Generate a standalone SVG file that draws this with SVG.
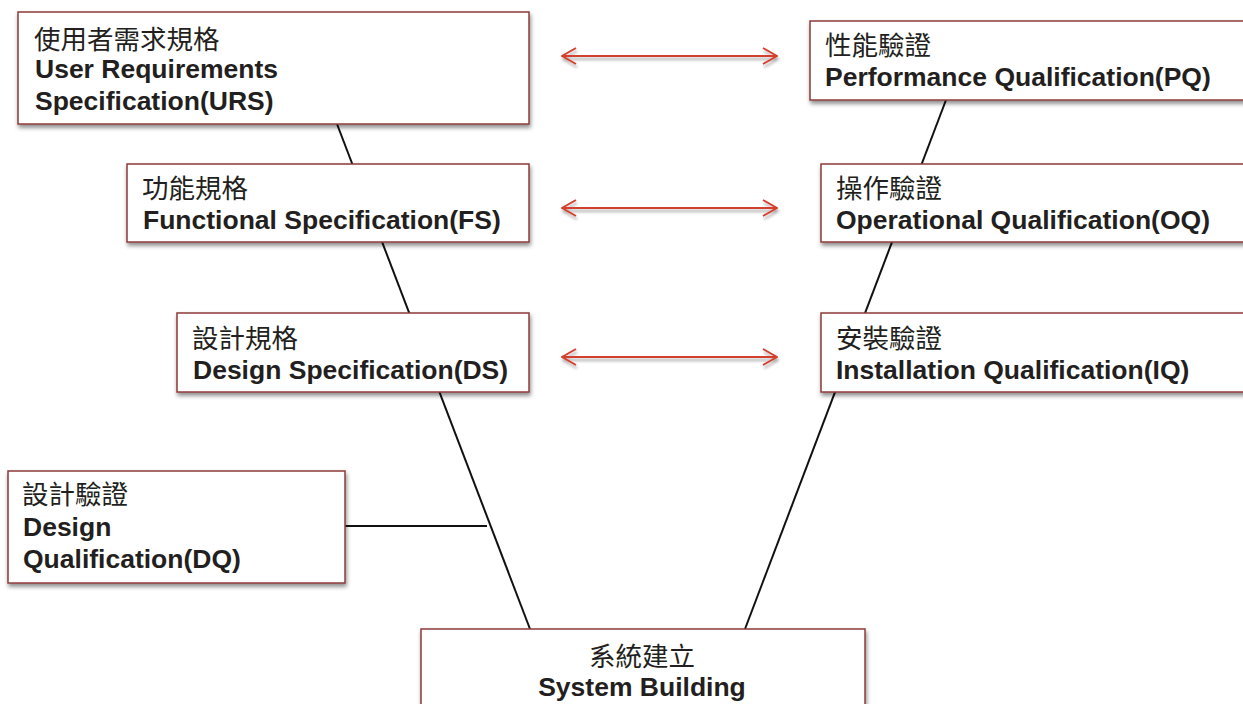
<svg xmlns="http://www.w3.org/2000/svg" width="1243" height="704" viewBox="0 0 1243 704">
<defs>
<filter id="sh" x="-10%" y="-20%" width="130%" height="150%">
<feDropShadow dx="1" dy="3" stdDeviation="2" flood-color="#000" flood-opacity="0.45"/>
</filter>
<filter id="ash" filterUnits="userSpaceOnUse" x="0" y="0" width="1243" height="704">
<feDropShadow dx="1" dy="3" stdDeviation="1.5" flood-color="#000" flood-opacity="0.35"/>
</filter>
<marker id="ah" viewBox="0 0 16 18" refX="15" refY="9" markerWidth="16" markerHeight="18" markerUnits="userSpaceOnUse" orient="auto-start-reverse">
<path d="M1,1 L15,9 L1,17" fill="none" stroke="#d2402e" stroke-width="2"/>
</marker>
<style>
.box{fill:#fff;stroke:#8e3b3b;stroke-width:1.5;filter:url(#sh)}
.zh{font-family:"Noto Sans CJK TC","Noto Sans CJK SC",sans-serif;font-size:26.5px;fill:#231f20}
.en{font-family:"Liberation Sans",Arial,sans-serif;font-size:26.5px;font-weight:bold;fill:#231f20}
.ln{stroke:#111;stroke-width:2;fill:none}
.ar{stroke:#d2402e;stroke-width:2;fill:none;marker-start:url(#ah);marker-end:url(#ah)}
</style>
</defs>
<g id="connectors">
<line class="ln" x1="337" y1="124" x2="530" y2="629"/>
<line class="ln" x1="946" y1="100" x2="745" y2="629"/>
<line class="ln" x1="345" y1="526" x2="415" y2="526" stroke-width="2.5"/>
<line class="ln" x1="415" y1="526" x2="487" y2="526" stroke-width="1.8"/>
<g filter="url(#ash)">
<path class="ar" d="M562,56 H777"/>
<path class="ar" d="M562,208 H777"/>
<path class="ar" d="M562,357 H777"/>
</g>
</g>
<g id="urs">
<rect class="box" x="18" y="12" width="511" height="112"/>
<text class="zh" x="34" y="49">使用者需求規格</text>
<text class="en" x="35" y="78">User Requirements</text>
<text class="en" x="35" y="110">Specification(URS)</text>
</g>
<g id="pq">
<rect class="box" x="810" y="21" width="445" height="79"/>
<text class="zh" x="825" y="55">性能驗證</text>
<text class="en" x="825" y="86">Performance Qualification(PQ)</text>
</g>
<g id="fs">
<rect class="box" x="127" y="164" width="402" height="78"/>
<text class="zh" x="142" y="198">功能規格</text>
<text class="en" x="143" y="229">Functional Specification(FS)</text>
</g>
<g id="oq">
<rect class="box" x="821" y="164" width="434" height="78"/>
<text class="zh" x="836" y="198">操作驗證</text>
<text class="en" x="836" y="229">Operational Qualification(OQ)</text>
</g>
<g id="ds">
<rect class="box" x="177" y="313" width="352" height="79"/>
<text class="zh" x="192" y="348">設計規格</text>
<text class="en" x="193" y="379">Design Specification(DS)</text>
</g>
<g id="iq">
<rect class="box" x="821" y="313" width="434" height="79"/>
<text class="zh" x="836" y="348">安裝驗證</text>
<text class="en" x="836" y="379">Installation Qualification(IQ)</text>
</g>
<g id="dq">
<rect class="box" x="8" y="471" width="337" height="112"/>
<text class="zh" x="22" y="504">設計驗證</text>
<text class="en" x="23" y="536">Design</text>
<text class="en" x="23" y="568">Qualification(DQ)</text>
</g>
<g id="sb">
<rect class="box" x="421" y="629" width="444" height="90"/>
<text class="zh" x="642" y="666" text-anchor="middle">系統建立</text>
<text class="en" x="642" y="696" text-anchor="middle">System Building</text>
</g>
</svg>
